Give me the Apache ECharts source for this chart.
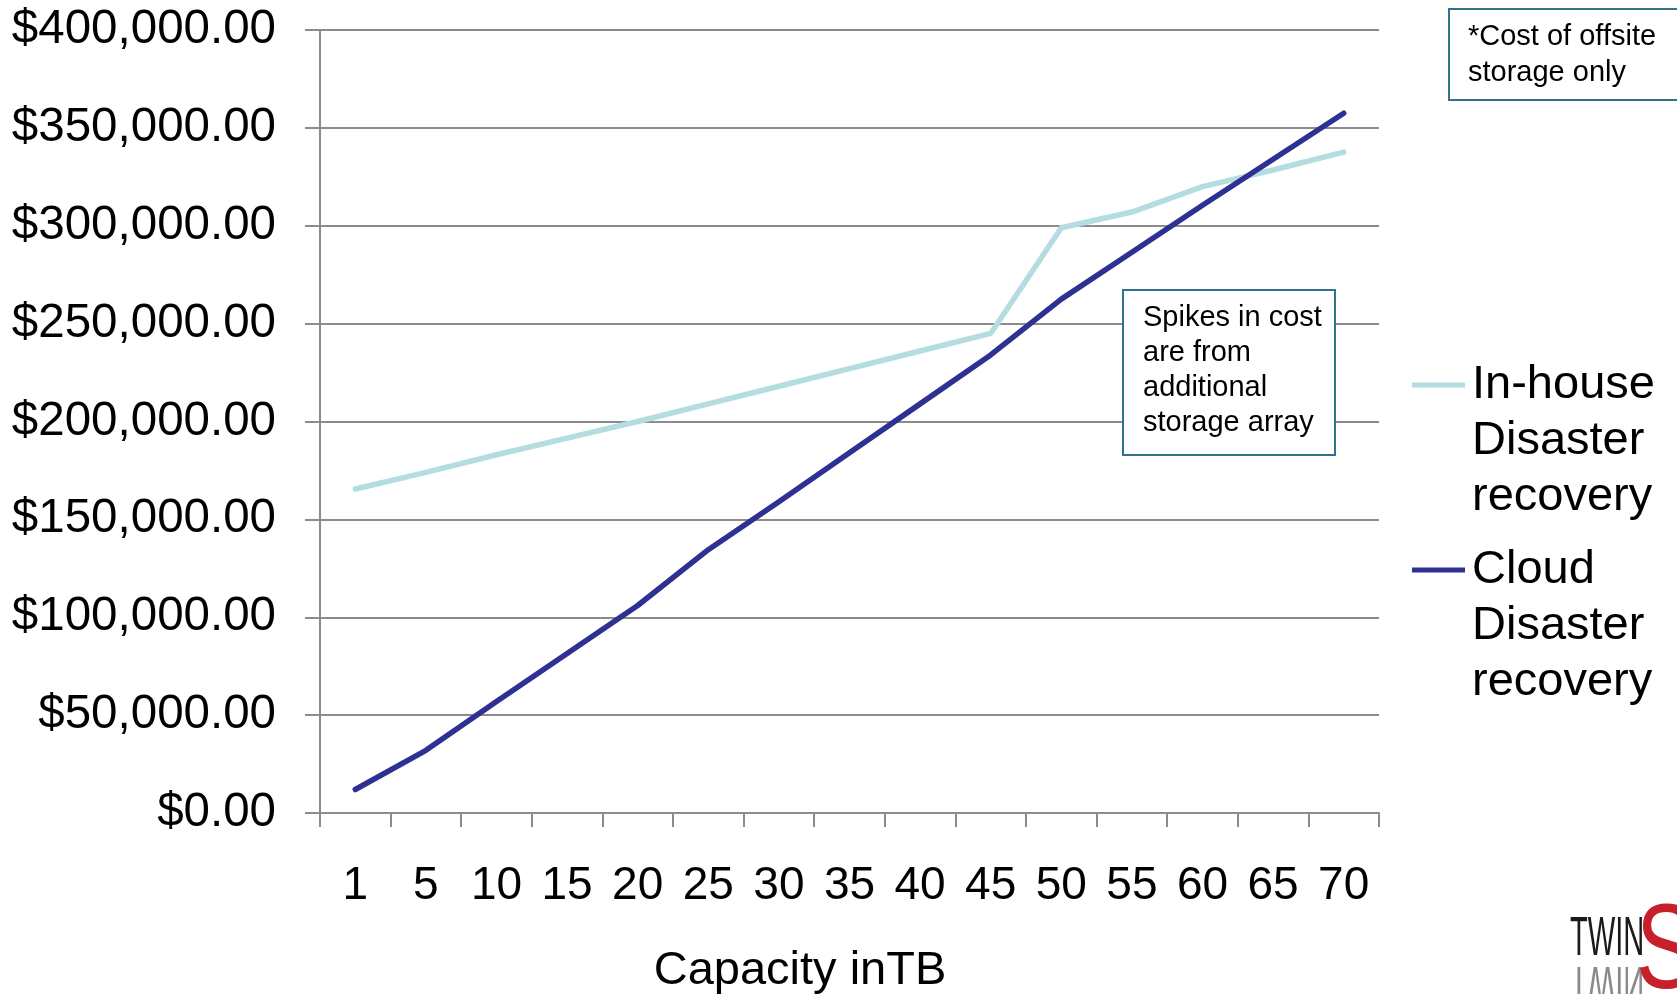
<!DOCTYPE html>
<html>
<head>
<meta charset="utf-8">
<script src="https://cdn.jsdelivr.net/npm/echarts@6/dist/echarts.min.js"></script>
<style>
    html, body { margin: 0; padding: 0; background: #fff; }
    #main { width: 1677px; height: 994px; }
</style>
</head>
<body>
<div id="main"></div>
<script>
// capacity in TB
var capacityList = ['1', '5', '10', '15', '20', '25', '30', '35', '40', '45', '50', '55', '60', '65', '70'];
// in-house disaster recovery cost
var inHouseList = [165500, 174000, 183000, 191500, 200000, 209000, 218000, 227000, 236000, 245000, 299000, 307000, 320000, 328500, 337600];
// cloud disaster recovery cost
var cloudList = [12000, 32000, 57000, 81500, 106000, 134500, 159000, 184000, 209000, 234000, 262500, 286500, 310500, 334000, 357500];
var legendNames = ['In-house\nDisaster\nrecovery', 'Cloud\nDisaster\nrecovery'];

var font = '"Liberation Sans", Arial, sans-serif';
var gridColor = '#8c8c8c';

function money(v) {
    return '$' + v.toLocaleString('en-US', { minimumFractionDigits: 2, maximumFractionDigits: 2 });
}

var myCharts = echarts.init(document.getElementById('main'));

// legend: icon sits on first line, so pad two blank lines above each name
function legendBlock(name, top) {
    return {
        data: [name],
        left: 1412,
        top: top,
        padding: 0,
        orient: 'vertical',
        icon: 'rect',
        itemWidth: 53,
        itemHeight: 5,
        itemGap: 0,
        selectedMode: false,
        formatter: function (n) { return '\n\n' + n; },
        textStyle: {
            fontFamily: font,
            fontSize: 47,
            lineHeight: 56,
            color: '#000',
            padding: [0, 0, 0, 2]
        }
    };
}

var option = {
    animation: false,
    backgroundColor: '#fff',
    grid: {
        left: 320,
        right: 298,
        top: 30,
        bottom: 181,
        containLabel: false,
        outerBoundsMode: 'none'
    },
    legend: [legendBlock(legendNames[0], 245), legendBlock(legendNames[1], 430)],
    xAxis: {
        type: 'category',
        boundaryGap: true,
        data: capacityList,
        name: 'Capacity inTB',
        nameLocation: 'middle',
        nameGap: 135,
        nameTextStyle: {
            fontFamily: font,
            fontSize: 47,
            color: '#000',
            padding: [0, 99, 0, 0]
        },
        axisLine: { lineStyle: { color: gridColor, width: 2 } },
        axisTick: { show: true, interval: 0, length: 14, lineStyle: { color: gridColor, width: 2 } },
        axisLabel: {
            interval: 0,
            margin: 50,
            fontFamily: font,
            fontSize: 46,
            color: '#000'
        }
    },
    yAxis: {
        type: 'value',
        min: 0,
        max: 400000,
        interval: 50000,
        axisLine: { show: true, lineStyle: { color: gridColor, width: 2 } },
        axisTick: { show: true, length: 15, lineStyle: { color: gridColor, width: 2 } },
        splitLine: { show: true, lineStyle: { color: gridColor, width: 2 } },
        axisLabel: {
            margin: 44,
            fontFamily: font,
            fontSize: 47.5,
            color: '#000',
            padding: [4, 0, 0, 0],
            formatter: money
        }
    },
    series: [{
        name: legendNames[0],
        type: 'line',
        data: inHouseList,
        showSymbol: false,
        color: '#b3dde0',
        lineStyle: { color: '#b3dde0', width: 5.5, cap: 'round' },
        z: 2
    }, {
        name: legendNames[1],
        type: 'line',
        data: cloudList,
        showSymbol: false,
        color: '#2e3192',
        lineStyle: { color: '#2e3192', width: 5.5, cap: 'round' },
        z: 3
    }],
    graphic: [
        // note box inside the plot
        {
            type: 'rect',
            shape: { x: 1123, y: 290, width: 212, height: 165 },
            style: { fill: '#fff', stroke: '#31718f', lineWidth: 2 },
            z: 10
        },
        {
            type: 'text',
            left: 1143,
            top: 300,
            style: {
                text: 'Spikes in cost\nare from\nadditional\nstorage array',
                font: '29px ' + font,
                lineHeight: 35,
                fill: '#000'
            },
            z: 11
        },
        // top right note
        {
            type: 'rect',
            shape: { x: 1449, y: 9, width: 240, height: 91 },
            style: { fill: '#fff', stroke: '#31718f', lineWidth: 2 },
            z: 10
        },
        {
            type: 'text',
            left: 1468,
            top: 19,
            style: {
                text: '*Cost of offsite\nstorage only',
                font: '29px ' + font,
                lineHeight: 36,
                fill: '#000'
            },
            z: 11
        },
        // logo, cut off at the page edge
        {
            type: 'text',
            x: 1570,
            y: 912,
            scaleX: 0.52,
            style: { text: 'TWIN', font: '56px ' + font, fill: '#1a1a1a' },
            z: 11
        },
        {
            type: 'text',
            x: 1570,
            y: 1010,
            scaleX: 0.52,
            scaleY: -1,
            style: { text: 'TWIN', font: '56px ' + font, fill: '#8a8a8a' },
            z: 11
        },
        {
            type: 'text',
            x: 1636,
            y: 895,
            scaleX: 0.75,
            style: { text: 'S', font: '120px ' + font, fill: '#c8202a' },
            z: 11
        }
    ]
};
myCharts.setOption(option);
</script>
</body>
</html>
